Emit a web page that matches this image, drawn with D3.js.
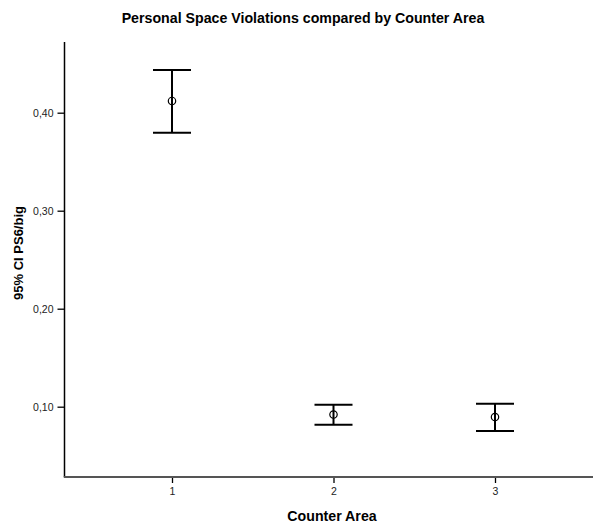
<!DOCTYPE html>
<html>
<head>
<meta charset="utf-8">
<script src="https://cdn.jsdelivr.net/npm/d3@7"></script>
<style>
  html, body { margin: 0; padding: 0; background: #fff; }
  svg { display: block; font-family: "Liberation Sans", Arial, sans-serif; }
</style>
</head>
<body>
<svg id="chart" width="593" height="527"></svg>
<script>
// Counter areas and the 95% confidence intervals of PS6/big
const categories = [1, 2, 3];
const means = [0.412, 0.092, 0.0895];
const lower = [0.3795, 0.0815, 0.0752];
const upper = [0.4435, 0.102, 0.103];
const yTicks = [0.10, 0.20, 0.30, 0.40];

const svg = d3.select("#chart");

const y = d3.scaleLinear().domain([0.1, 0.4]).range([406.7, 112.7]);
const x = d3.scaleLinear().domain([1, 3]).range([172, 495]);

const axisLeftX = 64.5, axisTopY = 42, axisBottomY = 477, axisRightX = 593;

// Title
svg.append("text")
  .attr("x", 303).attr("y", 23)
  .attr("text-anchor", "middle")
  .attr("font-size", 14.2).attr("font-weight", "bold")
  .text("Personal Space Violations compared by Counter Area");

// Y axis
const yAxis = d3.axisLeft(y).tickValues(yTicks).tickSize(7).tickPadding(4)
  .tickFormat(d => d3.format(".2f")(d).replace(".", ","));
const gy = svg.append("g").attr("transform", `translate(${axisLeftX},0)`).call(yAxis);
gy.select(".domain").remove();
gy.selectAll(".tick line").attr("stroke", "#000").attr("stroke-width", 1.3);
gy.selectAll(".tick text").attr("font-size", 10.5).attr("fill", "#222")
  .attr("font-family", "Liberation Sans, Arial, sans-serif");
svg.append("line")
  .attr("x1", axisLeftX).attr("x2", axisLeftX)
  .attr("y1", axisTopY).attr("y2", axisBottomY)
  .attr("stroke", "#000").attr("stroke-width", 1.5);

// X axis
const xAxis = d3.axisBottom(x).tickValues(categories).tickSize(6).tickPadding(5)
  .tickFormat(d3.format("d"));
const gx = svg.append("g").attr("transform", `translate(0,${axisBottomY})`).call(xAxis);
gx.select(".domain").remove();
gx.selectAll(".tick line").attr("stroke", "#000").attr("stroke-width", 1.3);
gx.selectAll(".tick text").attr("font-size", 10.5).attr("fill", "#222")
  .attr("font-family", "Liberation Sans, Arial, sans-serif");
svg.append("line")
  .attr("x1", axisLeftX - 0.75).attr("x2", axisRightX)
  .attr("y1", axisBottomY).attr("y2", axisBottomY)
  .attr("stroke", "#555").attr("stroke-width", 2);

// Axis titles
svg.append("text")
  .attr("x", 332).attr("y", 521)
  .attr("text-anchor", "middle")
  .attr("font-size", 14.2).attr("font-weight", "bold")
  .text("Counter Area");
svg.append("text")
  .attr("transform", "translate(23,253) rotate(-90)")
  .attr("text-anchor", "middle")
  .attr("font-size", 13).attr("font-weight", "bold")
  .text("95% CI PS6/big");

// Error bars
const data = categories.map((c, i) => ({ c, m: means[i], lo: lower[i], hi: upper[i] }));
const capHalf = 19;
const bars = svg.append("g").selectAll("g").data(data).join("g");
bars.append("line")
  .attr("x1", d => x(d.c)).attr("x2", d => x(d.c))
  .attr("y1", d => y(d.hi)).attr("y2", d => y(d.lo))
  .attr("stroke", "#000").attr("stroke-width", 2);
bars.append("line")
  .attr("x1", d => x(d.c) - capHalf).attr("x2", d => x(d.c) + capHalf)
  .attr("y1", d => y(d.hi)).attr("y2", d => y(d.hi))
  .attr("stroke", "#000").attr("stroke-width", 2);
bars.append("line")
  .attr("x1", d => x(d.c) - capHalf).attr("x2", d => x(d.c) + capHalf)
  .attr("y1", d => y(d.lo)).attr("y2", d => y(d.lo))
  .attr("stroke", "#000").attr("stroke-width", 2);
bars.append("circle")
  .attr("cx", d => x(d.c)).attr("cy", d => y(d.m))
  .attr("r", 3.7)
  .attr("fill", "none").attr("stroke", "#000").attr("stroke-width", 1.2);
</script>
</body>
</html>
